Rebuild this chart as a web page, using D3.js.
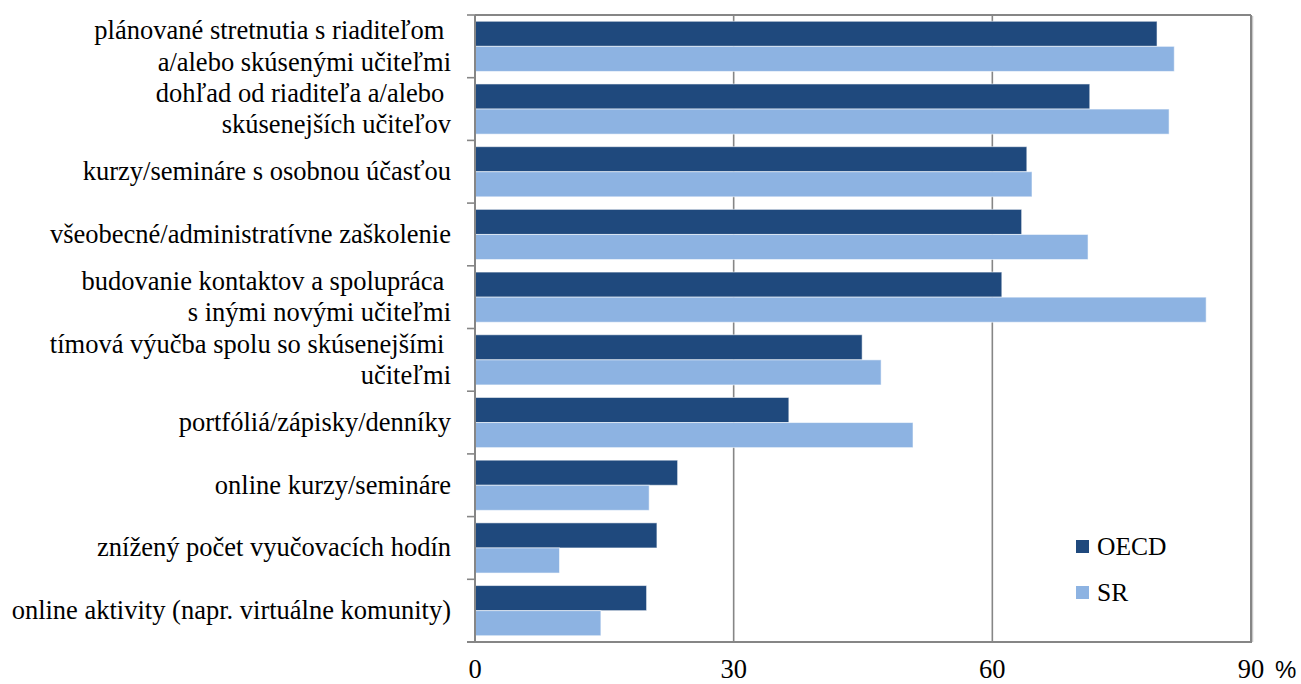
<!DOCTYPE html>
<html>
<head>
<meta charset="utf-8">
<script src="https://cdn.jsdelivr.net/npm/d3@7"></script>
<style>
  html, body { margin: 0; padding: 0; background: #fff; }
  svg { display: block; }
  text { white-space: pre; }
  .serif { font-family: "Liberation Serif", "Times New Roman", Times, "DejaVu Serif", serif; }
  .sans { font-family: "Liberation Sans", Arial, sans-serif; }
</style>
</head>
<body>
<div id="chart"></div>
<script>
// Forms of induction / support for new teachers (share in %), OECD vs. SR
const categories = [
  "plánované stretnutia s riaditeľom \na/alebo skúsenými učiteľmi",
  "dohľad od riaditeľa a/alebo \nskúsenejších učiteľov",
  "kurzy/semináre s osobnou účasťou",
  "všeobecné/administratívne zaškolenie",
  "budovanie kontaktov a spolupráca \ns inými novými učiteľmi",
  "tímová výučba spolu so skúsenejšími \nučiteľmi",
  "portfóliá/zápisky/denníky",
  "online kurzy/semináre",
  "znížený počet vyučovacích hodín",
  "online aktivity (napr. virtuálne komunity)"
];
const seriesNames = ["OECD", "SR"];
const oecdValues = [79.1, 71.3, 64.0, 63.4, 61.1, 44.9, 36.4, 23.5, 21.1, 19.9];
const srValues   = [81.1, 80.5, 64.6, 71.1, 84.8, 47.1, 50.8, 20.2, 9.8, 14.6];
const xTicks = [0, 30, 60, 90];
const xUnit = "%";

const seriesColors = { OECD: "#1F497D", SR: "#8DB3E2" };

const W = 1301, H = 684;
const plot = { left: 475, right: 1251, top: 15, bottom: 642 };
const labelSize = 26.5;

const rows = categories.map((c, i) => ({ cat: c, OECD: oecdValues[i], SR: srValues[i] }));

const svg = d3.select("#chart").append("svg")
  .attr("width", W).attr("height", H);

const x = d3.scaleLinear().domain([0, 90]).range([plot.left, plot.right]);
const y = d3.scaleBand().domain(categories)
  .range([plot.top, plot.bottom]).paddingInner(0.2).paddingOuter(0.1);
const ySub = d3.scaleBand().domain(seriesNames).range([0, y.bandwidth()]);

const gridColor = "#868686";

// vertical gridlines (interior ticks)
svg.append("g").selectAll("line")
  .data(xTicks.filter(t => t > 0 && t < 90))
  .join("line")
  .attr("x1", d => x(d)).attr("x2", d => x(d))
  .attr("y1", plot.top).attr("y2", plot.bottom)
  .attr("stroke", gridColor).attr("stroke-width", 1.6);

// bars
const groups = svg.append("g").selectAll("g")
  .data(rows).join("g")
  .attr("transform", d => `translate(0,${y(d.cat)})`);

groups.selectAll("rect")
  .data(d => seriesNames.map(s => ({ s, v: d[s] })))
  .join("rect")
  .attr("x", x(0))
  .attr("y", d => ySub(d.s))
  .attr("width", d => x(d.v) - x(0))
  .attr("height", ySub.bandwidth())
  .attr("fill", d => seriesColors[d.s])
  .attr("stroke", "rgba(255,255,255,0.55)")
  .attr("stroke-width", 1);

// plot frame: top and right edges
svg.append("line")
  .attr("x1", plot.left).attr("x2", plot.right)
  .attr("y1", plot.top).attr("y2", plot.top)
  .attr("stroke", gridColor).attr("stroke-width", 2);
svg.append("line")
  .attr("x1", plot.right + 1.5).attr("x2", plot.right + 1.5)
  .attr("y1", plot.top + 1).attr("y2", plot.bottom)
  .attr("stroke", "#c8c8c8").attr("stroke-width", 1.5);
svg.append("line")
  .attr("x1", plot.right).attr("x2", plot.right)
  .attr("y1", plot.top).attr("y2", plot.bottom)
  .attr("stroke", gridColor).attr("stroke-width", 2);

// category axis with tick marks at band boundaries
const boundaries = d3.range(categories.length + 1)
  .map(i => plot.top + i * (plot.bottom - plot.top) / categories.length);
svg.append("g").selectAll("line")
  .data(boundaries).join("line")
  .attr("x1", plot.left - 8).attr("x2", plot.left)
  .attr("y1", d => d).attr("y2", d => d)
  .attr("stroke", gridColor).attr("stroke-width", 1.6);
svg.append("line")
  .attr("x1", plot.left).attr("x2", plot.left)
  .attr("y1", plot.top).attr("y2", plot.bottom)
  .attr("stroke", gridColor).attr("stroke-width", 2);

// value axis line
svg.append("line")
  .attr("x1", plot.left - 8).attr("x2", plot.right + 1)
  .attr("y1", plot.bottom).attr("y2", plot.bottom)
  .attr("stroke", gridColor).attr("stroke-width", 2);

// category labels
const labels = svg.append("g")
  .attr("class", "serif")
  .attr("font-size", labelSize).attr("fill", "#000")
  .attr("text-anchor", "end");
labels.selectAll("text")
  .data(categories).join("text")
  .attr("x", 451)
  .attr("y", d => y(d) + y.bandwidth() / 2 + 8.5)
  .each(function (d) {
    const lines = d.split("\n");
    const t = d3.select(this);
    const lh = 31.5;
    lines.forEach((ln, i) => {
      t.append("tspan")
        .attr("x", 451)
        .attr("dy", i === 0 ? -(lines.length - 1) * lh / 2 : lh)
        .text(ln);
    });
  });

// value axis tick labels
svg.append("g")
  .attr("class", "serif")
  .attr("font-size", labelSize).attr("fill", "#000")
  .attr("text-anchor", "middle")
  .selectAll("text").data(xTicks).join("text")
  .attr("x", d => x(d)).attr("y", 678)
  .text(d => d);

svg.append("text")
  .attr("class", "sans")
  .attr("x", 1275).attr("y", 678)
  .attr("font-size", 24).attr("fill", "#000")
  .text(xUnit);

// legend
const legend = svg.append("g").attr("transform", "translate(1076,540)");
const li = legend.selectAll("g").data(seriesNames).join("g")
  .attr("transform", (d, i) => `translate(0,${i * 46})`);
li.append("rect")
  .attr("width", 13).attr("height", 13)
  .attr("fill", d => seriesColors[d]);
li.append("text")
  .attr("class", "serif")
  .attr("x", 21).attr("y", 15)
  .attr("font-size", 25.5).attr("fill", "#000")
  .text(d => d);
</script>
</body>
</html>
